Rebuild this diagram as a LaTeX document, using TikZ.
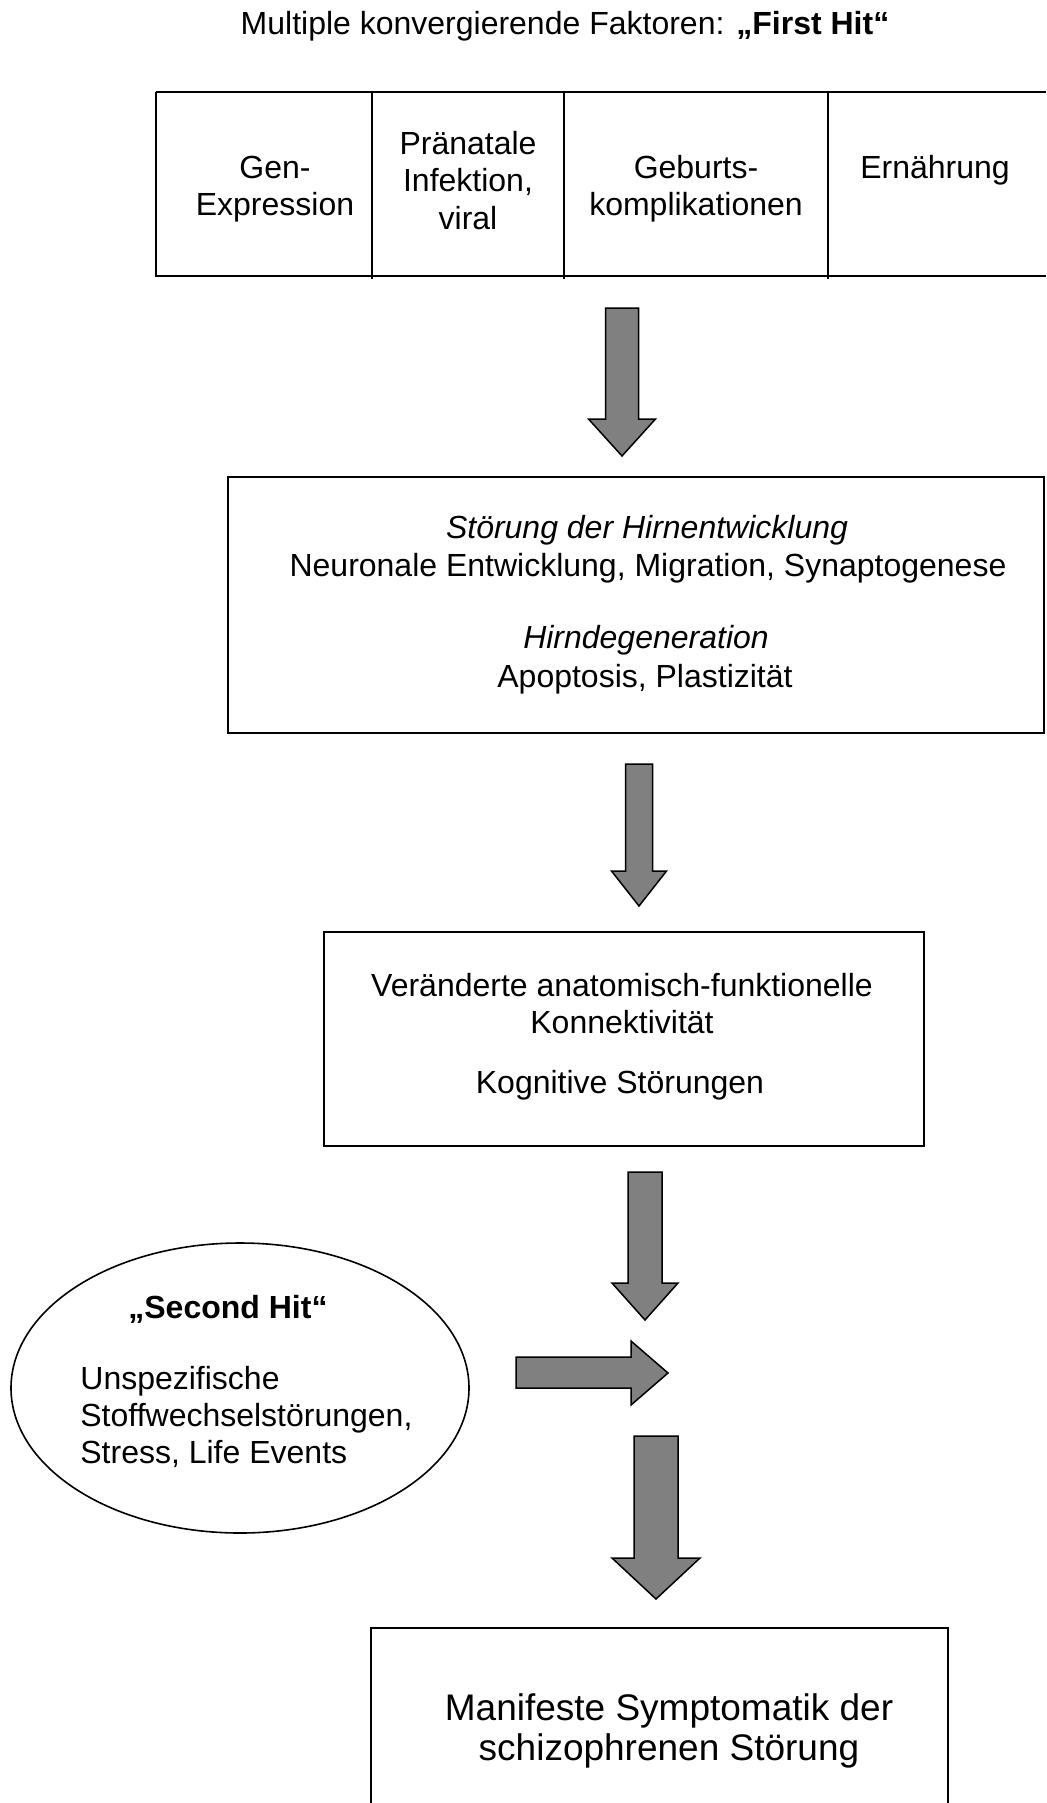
\documentclass[tikz,border=0pt]{standalone}
\usepackage{fontspec}
\setmainfont{Liberation Sans}
\usetikzlibrary{shapes.geometric}
\definecolor{arrowgray}{RGB}{128,128,128}
\newcommand\dnarrow[6]{%
  \draw[blockarrow] ({#1-#5},{#2}) -- ({#1+#5},{#2}) -- ({#1+#5},{#3}) -- ({#1+#6},{#3}) -- ({#1},{#4}) -- ({#1-#6},{#3}) -- ({#1-#5},{#3}) -- cycle;}
\begin{document}
\begin{tikzpicture}[x=0.5pt,y=-0.5pt,
  txt/.style={anchor=base,inner sep=0pt,font=\fontsize{16}{19}\selectfont},
  txtl/.style={anchor=base west,inner sep=0pt,font=\fontsize{16}{19}\selectfont},
  bigtxt/.style={anchor=base,inner sep=0pt,font=\fontsize{18.5}{20}\selectfont},
  frame/.style={draw=black,line width=0.9pt,rectangle,inner sep=0pt},
  tline/.style={draw=black,line width=1.1pt},
  divider/.style={draw=black,line width=0.7pt},
  blockarrow/.style={draw=black,fill=arrowgray,line width=0.75pt,line join=miter}]
\useasboundingbox (0,0) rectangle (1046,1803);
\fill[white] (0,0) rectangle (1046,1803);
\clip (0,0) rectangle (1046,1803);

% title
\node[txt] (title) at (565,35) {Multiple konvergierende Faktoren: \textbf{„First Hit“}};

% table of first-hit factors
\draw[tline] (156,92) -- (1046,92);
\draw[tline] (156,276) -- (1046,276);
\draw[divider] (156,92) -- (156,277);
\draw[divider] (372,92) -- (372,279);
\draw[divider] (564,92) -- (564,279);
\draw[divider] (828,92) -- (828,279);
\node[txt] (c1a) at (275,179) {Gen-};
\node[txt] (c1b) at (275,216) {Expression};
\node[txt] (c2a) at (468,155) {Pränatale};
\node[txt] (c2b) at (468,192) {Infektion,};
\node[txt] (c2c) at (468,229) {viral};
\node[txt] (c3a) at (696,179) {Geburts-};
\node[txt] (c3b) at (696,216) {komplikationen};
\node[txt] (c4a) at (935,179) {Ernährung};

% arrow 1
\dnarrow{622}{308}{419}{456}{16.5}{33.5}

% box 2
\node[frame,minimum width=408pt,minimum height=128pt] (box2) at (636,605) {};
\node[txt,font=\fontsize{16}{19}\selectfont\itshape] (b2a) at (647,538) {Störung der Hirnentwicklung};
\node[txt] (b2b) at (648,576) {Neuronale Entwicklung, Migration, Synaptogenese};
\node[txt,font=\fontsize{16}{19}\selectfont\itshape] (b2c) at (646,648) {Hirndegeneration};
\node[txt] (b2d) at (645,687) {Apoptosis, Plastizität};

% arrow 2
\dnarrow{639}{764}{871}{906}{13.5}{27.5}

% box 3
\node[frame,minimum width=300pt,minimum height=107pt] (box3) at (624,1039) {};
\node[txt] (b3a) at (622,996) {Veränderte anatomisch-funktionelle};
\node[txt] (b3b) at (622,1033) {Konnektivität};
\node[txt] (b3c) at (620,1093) {Kognitive Störungen};

% arrow 3
\dnarrow{645}{1172}{1283}{1320}{17}{33}

% second hit ellipse
\node[ellipse,draw=black,line width=0.8pt,minimum width=229pt,minimum height=145pt,inner sep=0pt] (hit2) at (240,1388) {};
\node[txtl] (h2a) at (128,1318) {\textbf{„Second Hit“}};
\node[txtl] (h2b) at (80,1389) {Unspezifische};
\node[txtl] (h2c) at (80,1426) {Stoffwechselstörungen,};
\node[txtl] (h2d) at (80,1463) {Stress, Life Events};

% right arrow
\draw[blockarrow] (516,1357) -- (631,1357) -- (631,1341) -- (668,1373) -- (631,1405) -- (631,1388) -- (516,1388) -- cycle;

% arrow 4
\dnarrow{656}{1436}{1558}{1599}{22}{44}

% box 5
\node[frame,minimum width=288.5pt,minimum height=136pt] (box5) at (659.5,1764) {};
\node[bigtxt] (b5a) at (669,1720) {Manifeste Symptomatik der};
\node[bigtxt] (b5b) at (669,1760) {schizophrenen Störung};
\end{tikzpicture}
\end{document}
